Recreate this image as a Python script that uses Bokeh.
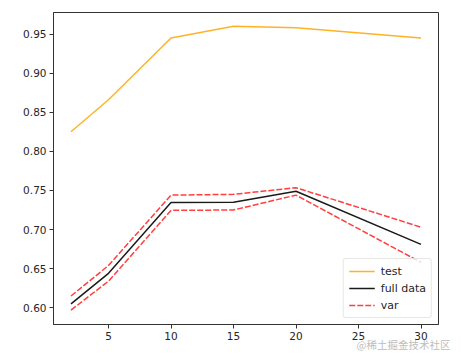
from bokeh.plotting import figure
from bokeh.models import FixedTicker, PrintfTickFormatter, Range1d, Legend, LegendItem, Title
from bokeh.embed import file_html
from bokeh.resources import INLINE

# data
x_vals = [2, 5, 10, 15, 20, 30]
test = [0.825, 0.866, 0.945, 0.960, 0.958, 0.945]
full_data = [0.605, 0.644, 0.7345, 0.735, 0.749, 0.681]
var_upper = [0.615, 0.654, 0.744, 0.745, 0.7535, 0.703]
var_lower = [0.597, 0.634, 0.7245, 0.725, 0.744, 0.658]
x_ticks = [5, 10, 15, 20, 25, 30]
y_ticks = [0.60, 0.65, 0.70, 0.75, 0.80, 0.85, 0.90, 0.95]

p = figure(width=461, height=356, output_backend="svg", toolbar_location=None,
           x_range=Range1d(0.6, 31.4), y_range=Range1d(0.5786, 0.9775),
           min_border_left=53, min_border_right=23, min_border_top=12, min_border_bottom=32)
p.background_fill_color = "white"
p.border_fill_color = "white"
p.outline_line_color = "#333333"
p.outline_line_width = 1
p.grid.visible = False

for ax in (p.xaxis, p.yaxis):
    ax.axis_line_color = "#333333"
    ax.major_tick_line_color = "#333333"
    ax.major_tick_out = 4
    ax.major_tick_in = 0
    ax.minor_tick_line_color = None
    ax.major_label_text_font = "DejaVu Sans"
    ax.major_label_text_font_size = "10.5px"
    ax.major_label_text_color = "#262626"
    ax.major_label_standoff = 3

p.xaxis.ticker = FixedTicker(ticks=x_ticks)
p.yaxis.ticker = FixedTicker(ticks=y_ticks)
p.xaxis.formatter = PrintfTickFormatter(format="%d")
p.yaxis.formatter = PrintfTickFormatter(format="%.2f")

r_test = p.line(x_vals, test, line_color="#FFA500", line_width=1.5, line_alpha=0.85)
r_full = p.line(x_vals, full_data, line_color="#1a1a1a", line_width=1.5)
r_up = p.line(x_vals, var_upper, line_color="#ff2a2a", line_width=1.5, line_dash="6 2", line_alpha=0.9)
r_lo = p.line(x_vals, var_lower, line_color="#ff2a2a", line_width=1.5, line_dash="6 2", line_alpha=0.9)

legend = Legend(items=[LegendItem(label="test", renderers=[r_test]),
                       LegendItem(label="full data", renderers=[r_full]),
                       LegendItem(label="var", renderers=[r_up])],
                location="bottom_right")
legend.label_text_font = "DejaVu Sans"
legend.label_text_font_size = "11px"
legend.label_text_color = "#262626"
legend.glyph_width = 26
legend.glyph_height = 14
legend.label_height = 14
legend.spacing = 3
legend.padding = 5
legend.margin = 6
legend.label_standoff = 6
legend.border_line_color = "#d0d0d0"
legend.border_line_width = 1
legend.border_radius = 3
legend.background_fill_alpha = 0.8
p.add_layout(legend, "center")

wm = Title(text="@稀土掘金技术社区", align="right", offset=-12, standoff=-16,
           text_font="Noto Sans CJK SC", text_font_size="10.5px", text_color="#bdbdbd",
           text_font_style="normal")
p.add_layout(wm, "below")

open("out.html", "w").write(file_html(p, INLINE))
